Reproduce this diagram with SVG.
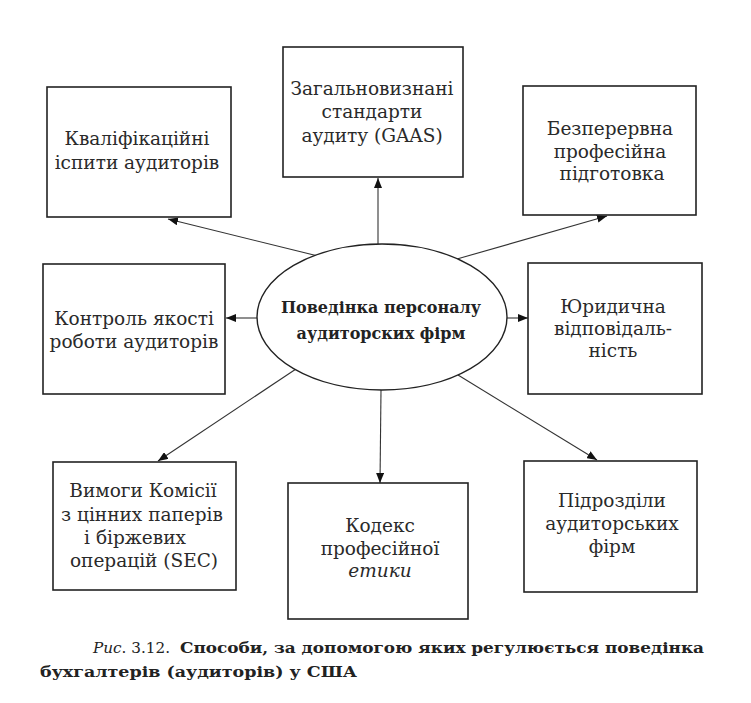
<svg xmlns="http://www.w3.org/2000/svg" width="751" height="703" viewBox="0 0 751 703">
<style>
.box{fill:#fff;stroke:#222;stroke-width:1.6}
.t{font-family:"DejaVu Serif","Liberation Serif",serif;font-size:18.5px;fill:#2a2a2a;text-anchor:middle}
.c{font-family:"DejaVu Serif","Liberation Serif",serif;font-size:16px;font-weight:bold;fill:#222;text-anchor:middle}
.ln{stroke:#333;stroke-width:1.1;fill:none;marker-end:url(#ah)}
.cap{font-family:"DejaVu Serif","Liberation Serif",serif;font-size:15px;fill:#222}
</style>
<defs>
<marker id="ah" viewBox="0 0 10 8" refX="10" refY="4" markerWidth="10" markerHeight="8" markerUnits="userSpaceOnUse" orient="auto">
<path d="M0,0 L10,4 L0,8 Z" fill="#111"/>
</marker>
</defs>
<rect width="751" height="703" fill="#fff"/>
<g id="connectors">
<line class="ln" x1="318" y1="256" x2="168" y2="219"/>
<line class="ln" x1="378" y1="244" x2="378" y2="178"/>
<line class="ln" x1="457" y1="259" x2="607" y2="216"/>
<line class="ln" x1="257" y1="318" x2="226" y2="318"/>
<line class="ln" x1="507" y1="318" x2="528" y2="318"/>
<line class="ln" x1="296" y1="369" x2="158" y2="461"/>
<line class="ln" x1="381" y1="390" x2="380" y2="483"/>
<line class="ln" x1="458" y1="375" x2="597" y2="460"/>
</g>
<g id="center">
<ellipse cx="382" cy="317" rx="125" ry="73" fill="#fff" stroke="#222" stroke-width="1.4"/>
<text class="c" x="381" y="313">Поведінка персоналу</text>
<text class="c" x="381" y="339">аудиторских фірм</text>
</g>
<g id="n1">
<rect class="box" x="47" y="87" width="184" height="130"/>
<text class="t" x="137" y="145">Кваліфікаційні</text>
<text class="t" x="137" y="169">іспити аудиторів</text>
</g>
<g id="n2">
<rect class="box" x="283" y="47" width="180" height="130"/>
<text class="t" x="372" y="95">Загальновизнані</text>
<text class="t" x="372" y="118">стандарти</text>
<text class="t" x="372" y="142">аудиту (GAAS)</text>
</g>
<g id="n3">
<rect class="box" x="523" y="86" width="173" height="129"/>
<text class="t" x="610" y="135">Безперервна</text>
<text class="t" x="610" y="158">професійна</text>
<text class="t" x="612" y="180">підготовка</text>
</g>
<g id="n4">
<rect class="box" x="43" y="264" width="182" height="130"/>
<text class="t" x="134" y="325">Контроль якості</text>
<text class="t" x="134" y="348">роботи аудиторів</text>
</g>
<g id="n5">
<rect class="box" x="528" y="263" width="174" height="131"/>
<text class="t" x="613" y="313">Юридична</text>
<text class="t" x="613" y="335">відповідаль-</text>
<text class="t" x="613" y="357">ність</text>
</g>
<g id="n6">
<rect class="box" x="53" y="462" width="183" height="128"/>
<text class="t" x="143" y="497">Вимоги Комісії</text>
<text class="t" x="142" y="521">з цінних паперів</text>
<text class="t" x="135" y="544">і біржевих</text>
<text class="t" x="144" y="567">операцій (SEC)</text>
</g>
<g id="n7">
<rect class="box" x="288" y="483" width="180" height="136"/>
<text class="t" x="380" y="532">Кодекс</text>
<text class="t" x="380" y="555">професійної</text>
<text class="t" x="380" y="577" font-style="italic">етики</text>
</g>
<g id="n8">
<rect class="box" x="524" y="461" width="173" height="131"/>
<text class="t" x="612" y="507">Підрозділи</text>
<text class="t" x="612" y="530">аудиторських</text>
<text class="t" x="612" y="553">фірм</text>
</g>
<g id="caption">
<text class="cap" x="93" y="653" textLength="77" lengthAdjust="spacingAndGlyphs" font-size="16"><tspan font-style="italic">Рис</tspan>. 3.12.</text>
<text class="cap" x="180" y="653" font-weight="bold" textLength="524" lengthAdjust="spacingAndGlyphs">Способи, за допомогою яких регулюється поведінка</text>
<text class="cap" x="40" y="677" font-weight="bold" textLength="317" lengthAdjust="spacingAndGlyphs">бухгалтерів (аудиторів) у США</text>
</g>
</svg>
